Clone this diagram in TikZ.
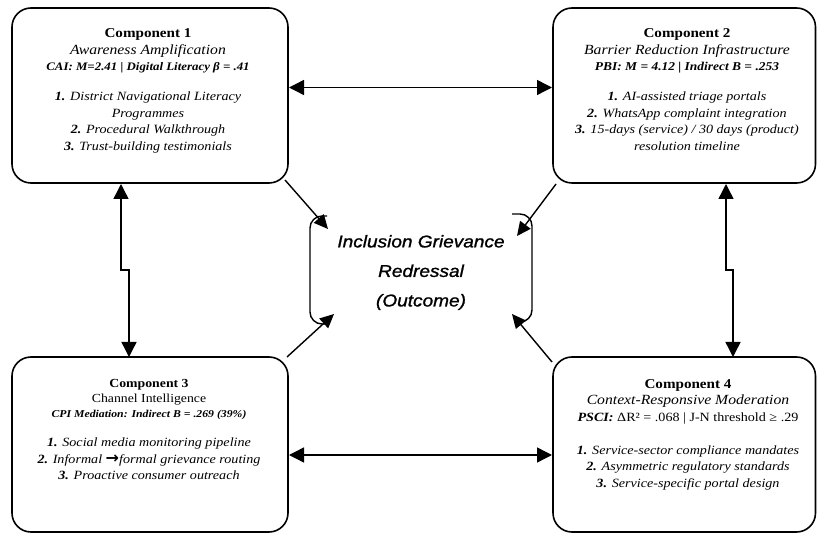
\documentclass[tikz,border=0pt]{standalone}
\usepackage{fontspec}
\setmainfont[FakeStretch=1.12]{Liberation Serif}
\newfontfamily\outfont[FakeStretch=1.12,FakeBold=1.2]{Liberation Sans}
\newfontfamily\arrfont{DejaVu Sans}
\usetikzlibrary{arrows.meta}
\newcommand\SubF{\fontsize{14}{16.5}\selectfont\itshape}
\newcommand\ItemF[1][16.5]{\fontsize{12.6}{#1}\selectfont\itshape}
\newcommand\StatF[1]{\fontsize{#1}{16.5}\selectfont\bfseries\itshape}
\begin{document}
\begin{tikzpicture}[x=1pt,y=-1pt,
  box/.style={draw=black,line width=1.6pt,rounded corners=19pt,inner sep=0pt},
  boxtext/.style={align=center,inner sep=0pt,anchor=north},
  link/.style={line width=1.4pt,{Triangle[length=15pt,width=15pt]}-{Triangle[length=15pt,width=15pt]}},
  feed/.style={line width=1.4pt,-{Triangle[length=14pt,width=13pt]}},
  bracket/.style={line width=1.4pt,rounded corners=12pt}]
\useasboundingbox (0,0) rectangle (817,534);

% boxes
\node[box,minimum width=276pt,minimum height=175pt] (b1) at (150,95.5) {};
\node[box,minimum width=262.5pt,minimum height=175pt] (b2) at (684.25,95.5) {};
\node[box,minimum width=276pt,minimum height=175pt] (b3) at (150,444.5) {};
\node[box,minimum width=262.5pt,minimum height=175pt] (b4) at (684.25,444.5) {};

% box texts
\node[boxtext,font=\fontsize{13.5}{16.5}\selectfont] (t1) at (148,28.5) {%
\textbf{Component 1}\\
{\SubF Awareness Amplification}\\
{\StatF{11.5}CAI: M=2.41 | Digital Literacy β = .41}\\[13.5pt]
{\ItemF\textbf{1.} District Navigational Literacy}\\
{\ItemF Programmes}\\
{\ItemF\textbf{2.} Procedural Walkthrough}\\
{\ItemF\textbf{3.} Trust-building testimonials}};

\node[boxtext,font=\fontsize{13.5}{16.5}\selectfont] (t2) at (687,28.5) {%
\textbf{Component 2}\\
{\SubF Barrier Reduction Infrastructure}\\
{\StatF{12}PBI: M = 4.12 | Indirect B = .253}\\[13.5pt]
{\ItemF\textbf{1.} AI-assisted triage portals}\\
{\ItemF\textbf{2.} WhatsApp complaint integration}\\
{\ItemF\textbf{3.} 15-days (service) / 30 days (product)}\\
{\ItemF resolution timeline}};

\node[boxtext,font=\fontsize{12.3}{15}\selectfont] (t3) at (149,379.5) {%
\textbf{Component 3}\\
Channel Intelligence\\
{\fontsize{10.5}{15}\selectfont\bfseries\itshape CPI Mediation: Indirect B = .269 (39\%)}\\[14pt]
{\ItemF[15]\textbf{1.} Social media monitoring pipeline}\\[1.5pt]
{\ItemF[15]\textbf{2.} Informal {\arrfont\bfseries\upshape\fontsize{16}{15}\selectfont →}formal grievance routing}\\[1.5pt]
{\ItemF[15]\textbf{3.} Proactive consumer outreach}};

\node[boxtext,font=\fontsize{13.5}{16.5}\selectfont] (t4) at (688,379) {%
\textbf{Component 4}\\
{\SubF Context-Responsive Moderation}\\
{\fontsize{12.6}{16.5}\selectfont\textbf{\textit{PSCI:}} ΔR² = .068 | J-N threshold ≥ .29}\\[16.5pt]
{\ItemF\textbf{1.} Service-sector compliance mandates}\\
{\ItemF\textbf{2.} Asymmetric regulatory standards}\\
{\ItemF\textbf{3.} Service-specific portal design}};

% outcome
\node[align=center,inner sep=0pt,font=\outfont\itshape\fontsize{17}{29.5}\selectfont] (out) at (421,272.5)
  {Inclusion Grievance\\Redressal\\(Outcome)};

% brackets around outcome
\coordinate (lbt) at (327,216);
\coordinate (lbb) at (327,324);
\coordinate (rbt) at (512,214);
\coordinate (rbb) at (514,322);
\draw[bracket] (lbt) -- (310,216) -- (310,324) -- (lbb);
\draw[bracket] (rbt) -- (532,214) -- (532,322) -- (rbb);

% horizontal links
\coordinate (h1l) at (289,87.5);
\coordinate (h1r) at (552,87.5);
\coordinate (h2l) at (289,455);
\coordinate (h2r) at (552,455);
\draw[link] (h1l) -- (h1r);
\draw[link] (h2l) -- (h2r);

% vertical links
\coordinate (v1t) at (121,184);
\coordinate (v1b) at (129,357);
\coordinate (v2t) at (726,184);
\coordinate (v2b) at (733,357);
\draw[link] (v1t) -- (121,270) -- (129,270) -- (v1b);
\draw[link] (v2t) -- (726,270) -- (733,270) -- (v2b);

% diagonal feeds into outcome
\coordinate (d1s) at (285,180);
\coordinate (d1e) at (328,229);
\coordinate (d2s) at (287,357);
\coordinate (d2e) at (334,314);
\coordinate (d3s) at (556,184);
\coordinate (d3e) at (517,236);
\coordinate (d4s) at (552,362);
\coordinate (d4e) at (512,314);
\draw[feed] (d1s) -- (d1e);
\draw[feed] (d2s) -- (d2e);
\draw[feed] (d3s) -- (d3e);
\draw[feed] (d4s) -- (d4e);
\end{tikzpicture}
\end{document}
